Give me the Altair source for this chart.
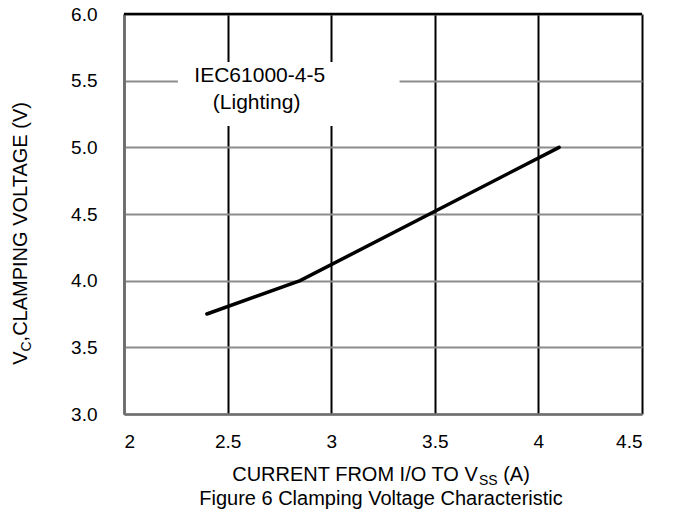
import altair as alt
import pandas as pd

# ---------------- data ----------------
current_a = [2.4, 2.85, 4.1]
clamp_v = [3.75, 4.0, 5.0]
x_ticks = [2, 2.5, 3, 3.5, 4, 4.5]
y_ticks = [3.0, 3.5, 4.0, 4.5, 5.0, 5.5, 6.0]
x_domain = [2, 4.5]
y_domain = [3.0, 6.0]
note_lines = ["IEC61000-4-5", "(Lighting)"]
note_x = [2.655, 2.64]
note_y = [5.535, 5.335]
note_box_x = [2.26, 3.33]
note_box_y = [5.16, 5.64]
x_title = ["CURRENT FROM I/O TO V", "SS", "(A)"]
y_title = ["V", "C", ",CLAMPING VOLTAGE (V)"]
caption = "Figure 6 Clamping Voltage Characteristic"

# ---------------- layout helpers ----------------
FONT = "Liberation Sans"
W, H = 518, 400
TITLE_SIZE = 20
SUB_SIZE = 14
TICK_SIZE = 19
NOTE_SIZE = 21

ARIAL = {'C': 722, 'U': 722, 'R': 722, 'E': 667, 'N': 722, 'T': 611, ' ': 278,
         'F': 611, 'O': 778, 'M': 833, 'I': 278, '/': 278, 'V': 667, 'S': 667,
         '(': 333, 'A': 667, ')': 333, 'L': 556, 'P': 667, 'G': 778, ',': 278}


def tw(s, size):
    return sum(ARIAL.get(ch, 556) for ch in s) * size / 1000.0


xs = alt.Scale(domain=x_domain, nice=False, zero=False)
ys = alt.Scale(domain=y_domain, nice=False, zero=False)

x_axis = alt.Axis(values=x_ticks, format="~g", title=None, ticks=False,
                  labelPadding=18, labelFontSize=TICK_SIZE, labelColor="black",
                  labelFont=FONT, grid=True, gridColor="black", gridWidth=2,
                  gridOpacity=1, domainColor="#6e6e6e", domainWidth=2.5)
y_axis = alt.Axis(values=y_ticks, format=".1f", title=None, ticks=False,
                  labelPadding=27, labelFontSize=TICK_SIZE, labelColor="black",
                  labelFont=FONT, grid=True, gridColor="#8c8c8c", gridWidth=2,
                  gridOpacity=1, domainColor="#6e6e6e", domainWidth=2.5)

line_df = pd.DataFrame({"I": current_a, "V": clamp_v})
box_df = pd.DataFrame({"x1": [note_box_x[0]], "x2": [note_box_x[1]],
                       "y1": [note_box_y[0]], "y2": [note_box_y[1]]})
note_df = pd.DataFrame({"t": note_lines, "x": note_x, "y": note_y})
top_df = pd.DataFrame({"y": [y_domain[1]]})

box = alt.Chart(box_df).mark_rect(fill="white", stroke=None).encode(
    x=alt.X("x1:Q", scale=xs, axis=x_axis), x2="x2:Q",
    y=alt.Y("y1:Q", scale=ys, axis=y_axis), y2="y2:Q")

line = alt.Chart(line_df).mark_line(color="black", strokeWidth=3.5,
                                    strokeCap="round").encode(
    x=alt.X("I:Q", scale=xs, axis=x_axis),
    y=alt.Y("V:Q", scale=ys, axis=y_axis))

top = alt.Chart(top_df).mark_rule(color="black", strokeWidth=2.5).encode(
    y=alt.Y("y:Q", scale=ys, axis=y_axis))

note = alt.Chart(note_df).mark_text(fontSize=NOTE_SIZE, font=FONT, color="black",
                                    align="center", baseline="middle").encode(
    x=alt.X("x:Q", scale=xs, axis=x_axis),
    y=alt.Y("y:Q", scale=ys, axis=y_axis),
    text="t:N")


def label(text, x, y, size, angle=0, align="left"):
    return alt.Chart(alt.Data(values=[{"t": text}])).mark_text(
        align=align, baseline="alphabetic", fontSize=size, angle=angle,
        color="black", font=FONT).encode(
        x=alt.value(x), y=alt.value(y), text="t:N")


# x title line 1 (with subscript), centred under the plot
xc = 257
w_main = tw(x_title[0], TITLE_SIZE)
w_sub = tw(x_title[1], SUB_SIZE)
w_sp = tw(" ", TITLE_SIZE)
w_tail = tw(x_title[2], TITLE_SIZE)
x0 = xc - (w_main + w_sub + w_sp + w_tail) / 2
xb = 467
xt1 = label(x_title[0], x0, xb, TITLE_SIZE)
xt2 = label(x_title[1], x0 + w_main, xb + 4, SUB_SIZE)
xt3 = label(x_title[2], x0 + w_main + w_sub + w_sp, xb, TITLE_SIZE)
cap = label(caption, xc, 491, TITLE_SIZE, align="center")

# y title (rotated), with subscript
yc = 218
wy_v = tw(y_title[0], TITLE_SIZE)
wy_c = tw(y_title[1], SUB_SIZE)
wy_r = tw(y_title[2], TITLE_SIZE)
yb = yc + (wy_v + wy_c + wy_r) / 2
ybase = -97
yt1 = label(y_title[0], ybase, yb, TITLE_SIZE, angle=270)
yt2 = label(y_title[1], ybase + 4, yb - wy_v, SUB_SIZE, angle=270)
yt3 = label(y_title[2], ybase, yb - wy_v - wy_c, TITLE_SIZE, angle=270)

chart = alt.layer(box, line, top, note, xt1, xt2, xt3, cap, yt1, yt2, yt3).properties(
    width=W, height=H,
    autosize=alt.AutoSizeParams(type="none"),
    padding={"left": 124, "top": 14, "right": 36, "bottom": 105},
).configure_view(stroke=None).configure(font=FONT)

chart.save("out.html", embed_options={"renderer": "svg", "actions": False})
